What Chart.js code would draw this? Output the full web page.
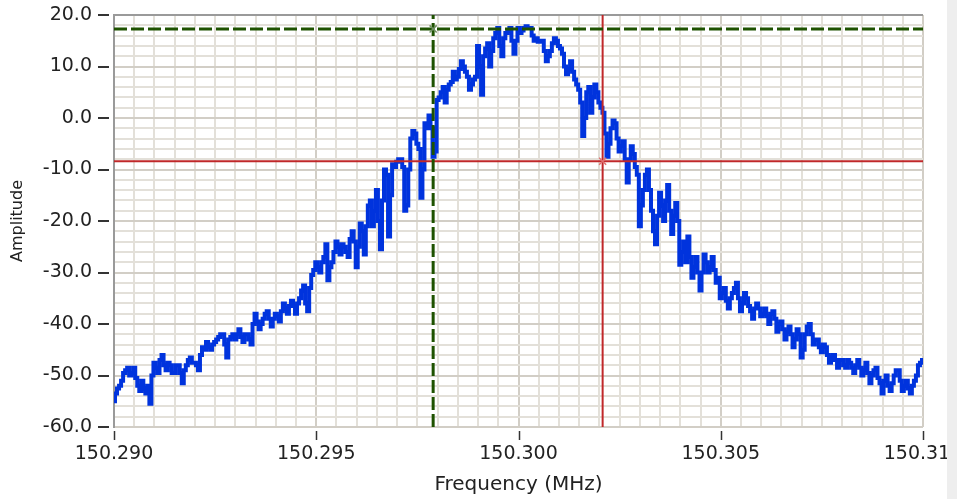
<!DOCTYPE html>
<html>
<head>
<meta charset="utf-8">
<script src="https://cdn.jsdelivr.net/npm/chart.js@4.4.1/dist/chart.umd.min.js"></script>
<style>
html, body { margin: 0; padding: 0; background: #fff; overflow: hidden; }
#wrap { position: relative; width: 957px; height: 499px; }
#strip { position: absolute; left: 947px; top: 0; width: 10px; height: 499px; background: #eeeeee; }
</style>
</head>
<body>
<div id="wrap">
    <canvas id="spectrum" width="957" height="499"></canvas>
    <div id="strip"></div>
</div>
<script>
// spectrum samples, one every 0.00005 MHz from 150.290
const freqStart = 150.290;
const freqStep = 0.00005;
const amplitude = [
    -55, -53.5, -52.5, -52, -51, -49.5, -49, -48.5, -50, -49.5, -48.5, -50.5, -52, -53, -51, -52.5, -53.5, -52, -55.5, -50,
    -47.5, -48.5, -49.5, -47, -46, -48, -49, -47.5, -48, -49.5, -49.5, -48, -48, -49.5, -51.5, -49, -48, -47, -46.5, -47.5,
    -47.5, -48, -49, -46, -44.5, -45, -43.5, -44.5, -45, -44, -43.5, -43, -42.5, -42, -42, -44, -46.5, -43, -42.5, -42,
    -43, -42, -41, -42.5, -43.5, -42, -42, -43, -44, -40, -38, -39.5, -41, -40, -39, -38, -37.5, -39, -40.5, -39,
    -38, -38.5, -39.5, -37.5, -36, -37, -38, -36.5, -35.5, -36.5, -38, -36, -35, -33.5, -32.5, -36, -37.5, -33, -30.5, -29.5,
    -28, -29, -30, -28, -27, -24.5, -31.5, -29, -28, -26, -24, -25, -26.5, -24.5, -25, -26, -27, -23.5, -22, -24,
    -29, -25, -20.5, -22, -26.5, -21, -17, -16, -21, -18, -14, -20, -25.5, -16, -10, -11, -23, -15, -9, -9.5,
    -8.5, -8, -8, -9.5, -18, -17, -10, -4, -2.5, -3, -5, -6, -15.5, -10, -1, -2, 0.5, -2, -7.5, -6.5,
    3.5, 4, 5, 6, 3, 5.5, 6.5, 7, 9, 7.5, 8, 9.5, 11, 10, 9, 8, 5.5, 6.5, 7.5, 8,
    14, 10, 4.5, 12, 13.5, 14.5, 10, 13, 15.5, 16.5, 17.5, 14, 12, 15.5, 16.5, 17, 17.5, 15, 12.5, 15,
    17.5, 16.5, 17, 17.5, 17.8, 17.5, 17.5, 16, 15, 15.5, 14.8, 15, 15, 13, 11, 12, 13, 14.5, 15.5, 15,
    14, 13.5, 12.5, 10, 8.5, 9.5, 11, 9, 7.5, 6.5, 5.5, 3, -3.5, 0, 5, 6, 1, 4, 6.5, 5,
    3, 2, 1, -3, -7.5, -5, -2, -0.5, -1, -4, -6.5, -5.5, -4.5, -8, -12.5, -8, -5.5, -7, -9.5, -11,
    -21, -17, -14, -11, -10, -14, -18, -22, -24.5, -19, -14.5, -17, -20, -16, -13, -18, -22.5, -19, -16.5, -20,
    -28.5, -26, -24, -28, -23, -27, -31, -29, -27, -30, -33.5, -30, -26.5, -28, -30, -29, -27, -29.5, -32, -31,
    -35, -34, -33, -35.5, -37, -35, -34, -33, -32, -35, -37.5, -36, -34, -35, -36.5, -37.5, -39, -37, -36, -37,
    -38.5, -38, -37, -38.5, -40, -38, -37.5, -39, -41.5, -40, -39.5, -41, -43, -41.5, -40.5, -42, -44.5, -43, -41, -42,
    -46.5, -45, -42, -40.5, -40, -42, -44, -43, -43, -44.5, -45.5, -44, -44.5, -46, -47.5, -46.5, -46, -47, -48.5, -47,
    -47, -48, -48.5, -47, -47.5, -48.5, -49.5, -48, -47, -48.5, -50, -49, -47.5, -49.5, -51.5, -50, -49, -48.5, -50.5, -51.5,
    -53.5, -51, -50, -52, -53, -51.5, -50, -49, -49, -51, -53, -52, -51, -52.5, -53.5, -52, -51, -50, -48, -47.5,
    -47
];

const xTickValues = [150.290, 150.295, 150.300, 150.305, 150.310];
const yTickValues = [20, 10, 0, -10, -20, -30, -40, -50, -60];

// two measurement cursors
const cursorGreen = { freq: 150.29789, amp: 17.3 };
const cursorRed = { freq: 150.30208, amp: -8.4 };

const xMin = 150.290, xMax = 150.310, yMin = -60, yMax = 20;

const spectrumPoints = amplitude.map((a, i) => ({ x: freqStart + i * freqStep, y: a }));

const isMajorX = v => xTickValues.some(t => Math.abs(t - v) < 1e-7);
const isMajorY = v => yTickValues.some(t => Math.abs(t - v) < 1e-7);

// drop the label overhang padding so the plot area is set by layout.padding only
const noOverhang = s => {
    s.paddingTop = 0;
    s.paddingBottom = 0;
    s.paddingLeft = 0;
    s.paddingRight = 0;
};

const tickMarks = {
    id: 'tickMarks',
    afterDraw(chart) {
        const { ctx, chartArea, scales: { x, y } } = chart;
        ctx.save();
        ctx.strokeStyle = '#333';
        ctx.lineWidth = 2;
        yTickValues.forEach(v => {
            const py = Math.round(y.getPixelForValue(v));
            ctx.beginPath();
            ctx.moveTo(chartArea.left - 16, py);
            ctx.lineTo(chartArea.left - 5, py);
            ctx.stroke();
        });
        ctx.lineWidth = 1.5;
        xTickValues.forEach(v => {
            const px = Math.round(x.getPixelForValue(v)) + 0.5;
            ctx.beginPath();
            ctx.moveTo(px, chartArea.bottom + 4);
            ctx.lineTo(px, chartArea.bottom + 13);
            ctx.stroke();
        });
        ctx.restore();
    }
};

const ctx = document.getElementById('spectrum').getContext('2d');
new Chart(ctx, {
    type: 'line',
    data: {
        datasets: [
            {
                data: [{ x: xMin, y: cursorGreen.amp }, { x: xMax, y: cursorGreen.amp }],
                borderColor: '#1e5200',
                borderWidth: 3,
                borderDash: [13, 4],
                pointRadius: 0,
                order: 1
            },
            {
                data: [{ x: cursorGreen.freq, y: yMin }, { x: cursorGreen.freq, y: yMax }],
                borderColor: '#1e5200',
                borderWidth: 3,
                borderDash: [13, 4],
                pointRadius: 0,
                order: 1
            },
            {
                data: [{ x: xMin, y: cursorRed.amp }, { x: xMax, y: cursorRed.amp }],
                borderColor: '#c0282a',
                borderWidth: 2,
                pointRadius: 0,
                order: 1
            },
            {
                data: [{ x: cursorRed.freq, y: yMin }, { x: cursorRed.freq, y: yMax }],
                borderColor: '#c0282a',
                borderWidth: 2,
                pointRadius: 0,
                order: 1
            },
            {
                data: [{ x: cursorGreen.freq, y: cursorGreen.amp }, { x: cursorRed.freq, y: cursorRed.amp }],
                showLine: false,
                pointStyle: 'crossRot',
                pointRadius: 5,
                pointBorderWidth: 1.5,
                pointBorderColor: ['#6f8f60', '#e07070'],
                order: 0
            },
            {
                data: spectrumPoints,
                borderColor: '#0033dd',
                borderWidth: 4,
                pointRadius: 0,
                stepped: 'middle',
                order: 2
            }
        ]
    },
    options: {
        responsive: false,
        animation: false,
        layout: { padding: { top: 15, right: 34, left: 0, bottom: 0 } },
        plugins: {
            legend: { display: false },
            tooltip: { enabled: false }
        },
        scales: {
            x: {
                type: 'linear',
                min: xMin,
                max: xMax,
                afterFit: s => { s.height = 72; noOverhang(s); },
                border: { display: false },
                grid: {
                    drawTicks: false,
                    lineWidth: 2,
                    color: c => (c.tick && isMajorX(c.tick.value)) ? '#d2cec6' : '#e3e0d9'
                },
                ticks: {
                    stepSize: 0.0005,
                    autoSkip: false,
                    maxRotation: 0,
                    padding: 16,
                    color: '#222',
                    font: { family: 'DejaVu Sans', size: 19 },
                    callback: v => isMajorX(v) ? v.toFixed(3) : ''
                },
                title: {
                    display: true,
                    text: 'Frequency (MHz)',
                    color: '#222',
                    font: { family: 'DejaVu Sans', size: 20 },
                    padding: { top: 0, bottom: 2 }
                }
            },
            y: {
                min: yMin,
                max: yMax,
                afterFit: s => { s.width = 114; noOverhang(s); },
                border: { display: true, color: '#9a9a9a', width: 2 },
                grid: {
                    drawTicks: false,
                    lineWidth: 2,
                    color: c => {
                        if (!c.tick) return '#e3e0d9';
                        if (c.tick.value === yMax) return '#9a9a9a';
                        return isMajorY(c.tick.value) ? '#d2cec6' : '#e3e0d9';
                    }
                },
                ticks: {
                    stepSize: 2,
                    autoSkip: false,
                    padding: 22,
                    color: '#222',
                    font: { family: 'DejaVu Sans', size: 19 },
                    callback: v => isMajorY(v) ? v.toFixed(1) : ''
                },
                title: {
                    display: true,
                    text: 'Amplitude',
                    color: '#222',
                    font: { family: 'DejaVu Sans', size: 16 },
                    padding: { top: 8, bottom: 0 }
                }
            }
        }
    },
    plugins: [tickMarks]
});
</script>
</body>
</html>
